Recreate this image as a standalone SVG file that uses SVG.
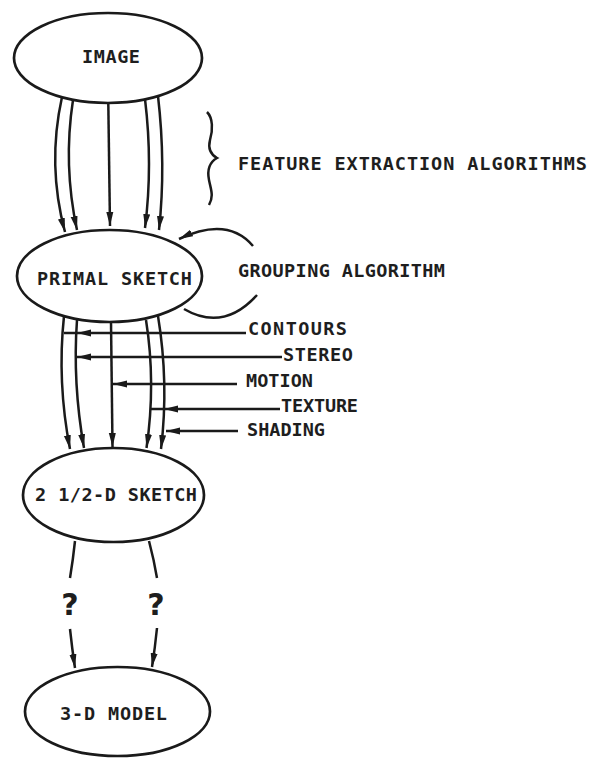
<svg xmlns="http://www.w3.org/2000/svg" width="592" height="761" viewBox="0 0 592 761">
<defs>
<marker id="ah" markerUnits="userSpaceOnUse" markerWidth="16" markerHeight="9" refX="14" refY="4" orient="auto">
<path d="M0,0.5 L14,4 L0,7.5 Z" fill="#1a1a1a"/>
</marker>
<style>
.node ellipse{fill:none;stroke:#1a1a1a;stroke-width:2.7}
.lbl{font-family:"DejaVu Sans Mono","Liberation Mono",monospace;font-size:18.5px;font-weight:bold;fill:#1e1e1e}
.edge{fill:none;stroke:#1a1a1a;stroke-width:2.5}
.arr{marker-end:url(#ah)}
.mid{marker-mid:url(#ah)}
.q{font-family:"DejaVu Sans","Liberation Sans",sans-serif;font-size:30px;font-weight:bold;fill:#1e1e1e;text-anchor:middle}
</style>
</defs>
<rect width="592" height="761" fill="#ffffff"/>
<g id="image" class="node">
<ellipse cx="108" cy="58" rx="94" ry="45"/>
<text class="lbl" x="82" y="63" textLength="58" lengthAdjust="spacing">IMAGE</text>
</g>
<g id="primal-sketch" class="node">
<ellipse cx="109.5" cy="276" rx="92.5" ry="46"/>
<text class="lbl" x="37" y="285" textLength="155" lengthAdjust="spacing">PRIMAL SKETCH</text>
</g>
<g id="sketch-2-5d" class="node">
<ellipse cx="113.5" cy="495" rx="90.5" ry="47"/>
<text class="lbl" x="35" y="501" textLength="162" lengthAdjust="spacing">2 1/2-D SKETCH</text>
</g>
<g id="model-3d" class="node">
<ellipse cx="117.5" cy="711.5" rx="92.5" ry="44.5"/>
<text class="lbl" x="60" y="720" textLength="107" lengthAdjust="spacing">3-D MODEL</text>
</g>
<g id="annotations">
<path class="edge" d="M207,112 C213,118 213,130 210,140 C208,148 210,154 217,158 C210,162 207,170 209,180 C211,190 214,196 209,205"/>
<text class="lbl" x="238" y="170" textLength="349" lengthAdjust="spacing">FEATURE EXTRACTION ALGORITHMS</text>
<text class="lbl" x="238" y="277" textLength="207" lengthAdjust="spacing">GROUPING ALGORITHM</text>
<text class="lbl" x="248" y="335" textLength="99" lengthAdjust="spacing">CONTOURS</text>
<text class="lbl" x="283" y="361" textLength="70" lengthAdjust="spacing">STEREO</text>
<text class="lbl" x="246" y="387" textLength="67" lengthAdjust="spacing">MOTION</text>
<text class="lbl" x="281" y="412" textLength="77" lengthAdjust="spacing">TEXTURE</text>
<text class="lbl" x="247" y="436" textLength="78" lengthAdjust="spacing">SHADING</text>
<text class="q" x="70" y="615">?</text>
<text class="q" x="156" y="615">?</text>
</g>
<g id="connectors">
<path class="edge arr" d="M62,97 Q47,165 65,232"/>
<path class="edge arr" d="M73,100 Q63,165 77,230"/>
<path class="edge arr" d="M108.3,103 L110,226"/>
<path class="edge arr" d="M145,99 Q153,165 145,228"/>
<path class="edge arr" d="M158,96 Q166,165 159,230"/>
<path class="edge arr" d="M253,246 Q227.5,216 179,239"/>
<path class="edge" d="M184,309 Q223.5,332 257,295"/>
<path class="edge arr" d="M64,316 Q57,382 70,449"/>
<path class="edge arr" d="M77,320 Q72.5,383 84,448"/>
<path class="edge arr" d="M111,322 L112.5,447"/>
<path class="edge arr" d="M146,320 Q156,383 146.5,448"/>
<path class="edge arr" d="M158,316 Q169,383 161,449"/>
<path class="edge mid" d="M246,333 H77 H64"/>
<path class="edge arr" d="M282,357 H77"/>
<path class="edge arr" d="M237,384 H113"/>
<path class="edge mid" d="M280,409 H164 H151"/>
<path class="edge arr" d="M238,431 H166"/>
<path class="edge" d="M75,541 Q73,560 70,578"/>
<path class="edge" d="M149,541 Q154,560 157,578"/>
<path class="edge arr" d="M70,629 Q72,648 75,668"/>
<path class="edge arr" d="M157,628 Q155,648 152,667"/>
</g>
</svg>
